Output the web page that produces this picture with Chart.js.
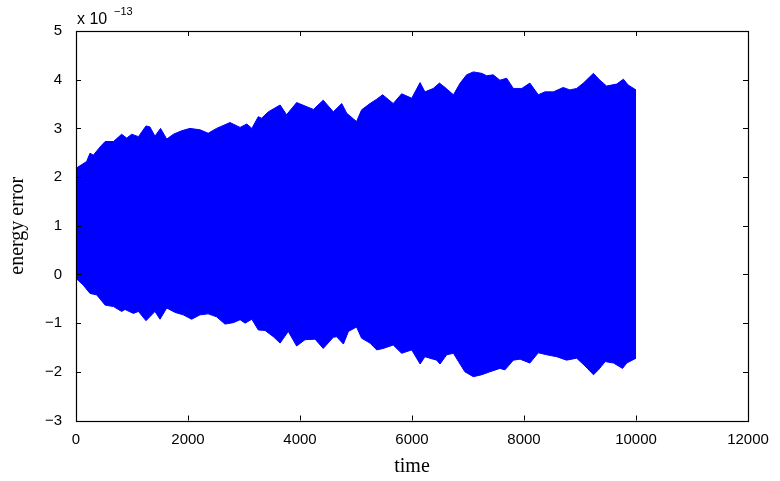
<!DOCTYPE html>
<html lang="en">
<head>
  <meta charset="UTF-8">
  <title>energy error</title>
  <script src="https://cdn.jsdelivr.net/npm/chart.js"></script>
  <style>
    html, body { margin: 0; padding: 0; background: #fff; }
    #wrap { width: 780px; height: 481px; }
  </style>
</head>
<body>
  <div id="wrap"><canvas id="errChart" width="780" height="481"></canvas></div>

  <script>
    // upper envelope of the error band (x 1e-13)
    const upperTime = [0, 190, 250, 310, 430, 520, 670, 815, 905, 995, 1115, 1250, 1320, 1410, 1510, 1620, 1740, 1885, 2035, 2215, 2360, 2510, 2750, 2930, 3050, 3140, 3255, 3315, 3435, 3645, 3760, 3940, 4090, 4240, 4415, 4595, 4745, 4835, 5010, 5100, 5250, 5370, 5475, 5665, 5815, 5995, 6145, 6230, 6380, 6490, 6590, 6740, 6860, 6975, 7095, 7245, 7335, 7450, 7570, 7690, 7810, 7960, 8105, 8255, 8375, 8525, 8700, 8820, 8940, 9060, 9240, 9355, 9475, 9655, 9775, 9860, 10000];
    const upperErr = [2.18, 2.32, 2.49, 2.45, 2.62, 2.73, 2.73, 2.88, 2.80, 2.88, 2.83, 3.05, 3.03, 2.84, 3.00, 2.78, 2.88, 2.95, 3.00, 2.97, 2.90, 3.00, 3.12, 3.02, 3.09, 3.00, 3.24, 3.21, 3.34, 3.48, 3.28, 3.53, 3.46, 3.39, 3.58, 3.34, 3.51, 3.31, 3.14, 3.38, 3.51, 3.60, 3.69, 3.51, 3.71, 3.62, 3.94, 3.75, 3.82, 3.93, 3.84, 3.69, 3.93, 4.10, 4.16, 4.13, 4.08, 4.10, 3.99, 4.03, 3.82, 3.82, 3.93, 3.69, 3.75, 3.75, 3.84, 3.79, 3.82, 3.93, 4.13, 3.99, 3.87, 3.91, 4.01, 3.89, 3.79];

    // lower envelope
    const lowerTime = [0, 130, 250, 370, 520, 670, 815, 875, 1025, 1115, 1250, 1410, 1500, 1620, 1770, 1915, 2065, 2215, 2360, 2510, 2660, 2810, 2930, 3020, 3140, 3255, 3375, 3525, 3645, 3790, 3940, 4090, 4270, 4415, 4595, 4655, 4775, 4865, 5010, 5100, 5250, 5370, 5485, 5665, 5815, 5995, 6145, 6230, 6440, 6500, 6620, 6740, 6830, 6945, 7095, 7245, 7390, 7570, 7660, 7810, 7930, 8105, 8255, 8405, 8585, 8760, 8940, 9090, 9240, 9330, 9450, 9600, 9760, 9835, 10000];
    const lowerErr = [-0.08, -0.22, -0.39, -0.42, -0.63, -0.66, -0.76, -0.72, -0.80, -0.76, -0.95, -0.76, -0.92, -0.69, -0.78, -0.83, -0.92, -0.83, -0.81, -0.87, -1.02, -0.99, -0.93, -1.00, -0.92, -1.14, -1.15, -1.28, -1.41, -1.17, -1.47, -1.34, -1.33, -1.52, -1.29, -1.28, -1.43, -1.17, -1.08, -1.31, -1.41, -1.55, -1.52, -1.45, -1.62, -1.55, -1.84, -1.69, -1.76, -1.84, -1.65, -1.62, -1.79, -2.00, -2.10, -2.06, -2.00, -1.93, -1.96, -1.76, -1.74, -1.82, -1.61, -1.65, -1.69, -1.76, -1.72, -1.88, -2.06, -1.96, -1.79, -1.82, -1.93, -1.82, -1.72];

    const xTicks = [0, 2000, 4000, 6000, 8000, 10000, 12000];
    const yTicks = [-3, -2, -1, 0, 1, 2, 3, 4, 5];

    const toPoints = (xs, ys) => xs.map((x, i) => ({ x: x, y: ys[i] }));

    // matlab style box with inward ticks + exponent label
    const boxPlugin = {
      id: "matlabBox",
      afterDraw(chart) {
        const { ctx, chartArea: a, scales } = chart;
        const len = 5;
        ctx.save();
        ctx.strokeStyle = "#000";
        ctx.lineWidth = 1;
        ctx.beginPath();
        xTicks.forEach(v => {
          const px = Math.round(scales.x.getPixelForValue(v)) + 0.5;
          ctx.moveTo(px, a.bottom); ctx.lineTo(px, a.bottom - len);
          ctx.moveTo(px, a.top); ctx.lineTo(px, a.top + len);
        });
        yTicks.forEach(v => {
          const py = Math.round(scales.y.getPixelForValue(v)) + 0.5;
          ctx.moveTo(a.left, py); ctx.lineTo(a.left + len, py);
          ctx.moveTo(a.right, py); ctx.lineTo(a.right - len, py);
        });
        ctx.stroke();
        ctx.lineWidth = 1.2;
        ctx.strokeRect(Math.round(a.left) + 0.5, Math.round(a.top) + 0.5,
          Math.round(a.right - a.left), Math.round(a.bottom - a.top));

        ctx.fillStyle = "#000";
        ctx.textBaseline = "alphabetic";
        ctx.font = "16px 'Liberation Sans', Arial, sans-serif";
        ctx.fillText("x 10", a.left + 1, a.top - 7);
        ctx.font = "11px 'Liberation Sans', Arial, sans-serif";
        ctx.fillText("\u221213", a.left + 38, a.top - 16);
        ctx.restore();
      }
    };

    const ctx = document.getElementById("errChart").getContext("2d");
    new Chart(ctx, {
      type: "line",
      data: {
        datasets: [
          {
            label: "upper",
            data: toPoints(upperTime, upperErr),
            borderColor: "#0000ff",
            backgroundColor: "#0000ff",
            borderWidth: 1,
            pointRadius: 0,
            tension: 0,
            fill: 1
          },
          {
            label: "lower",
            data: toPoints(lowerTime, lowerErr),
            borderColor: "#0000ff",
            backgroundColor: "#0000ff",
            borderWidth: 1,
            pointRadius: 0,
            tension: 0,
            fill: false
          }
        ]
      },
      options: {
        responsive: false,
        animation: false,
        layout: { padding: { left: 0, right: 32, top: 31, bottom: 0 } },
        plugins: {
          legend: { display: false },
          tooltip: { enabled: false }
        },
        scales: {
          x: {
            type: "linear",
            min: 0,
            max: 12000,
            afterBuildTicks: s => { s.ticks = xTicks.map(v => ({ value: v })); },
            afterFit: s => { s.height = 60.5; },
            grid: { display: false },
            border: { display: false },
            ticks: {
              color: "#000",
              padding: 2,
              maxRotation: 0,
              callback: v => String(v),
              font: { family: "'Liberation Sans', Arial, sans-serif", size: 15 }
            },
            title: {
              display: true,
              text: "time",
              color: "#000",
              padding: { top: 4, bottom: 2 },
              font: { family: "'Liberation Serif', 'Times New Roman', serif", size: 20 }
            }
          },
          y: {
            min: -3,
            max: 5,
            afterBuildTicks: s => { s.ticks = yTicks.map(v => ({ value: v })); },
            afterFit: s => { s.width = 76; },
            grid: { display: false },
            border: { display: false },
            ticks: {
              color: "#000",
              padding: 6,
              callback: v => String(v).replace("-", "\u2212"),
              font: { family: "'Liberation Sans', Arial, sans-serif", size: 15 }
            },
            title: {
              display: true,
              text: "energy error",
              color: "#000",
              padding: { top: 6, bottom: 4 },
              font: { family: "'Liberation Serif', 'Times New Roman', serif", size: 20 }
            }
          }
        }
      },
      plugins: [boxPlugin]
    });
  </script>
</body>
</html>
